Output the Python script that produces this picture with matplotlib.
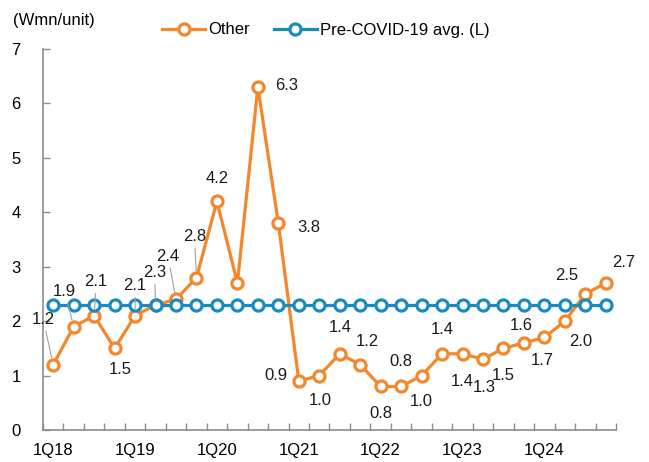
import matplotlib
matplotlib.use("Agg")
import matplotlib.pyplot as plt

plt.rcParams['font.family'] = ['Liberation Sans', 'DejaVu Sans']

quarters = [f"{q}Q{y}" for y in range(18, 25) for q in range(1, 5)]
other = [1.2, 1.9, 2.1, 1.5, 2.1, 2.3, 2.4, 2.8, 4.2, 2.7, 6.3, 3.8,
         0.9, 1.0, 1.4, 1.2, 0.8, 0.8, 1.0, 1.4, 1.4, 1.3, 1.5, 1.6,
         1.7, 2.0, 2.5, 2.7]
pre_covid = [2.3] * len(quarters)

# label offsets in pixels (dx, dy, leader line), None = no label
label_offsets = [(-10, 45, 1), (-9, 35, 1), (2, 34, 1), (6, -21, 0), (0, 30, 1),
                 (-1, 32, 1), (-8, 43, 1), (-2, 41, 1), (0, 23, 0), None,
                 (29, 2, 0), (30, -4, 0), (-23, 6, 0), (1, -25, 0), (1, 26, 0),
                 (7, 23, 0), (0, -27, 0), (0, 25, 0), (0, -26, 0), (0, 24, 0),
                 (0, -28, 0), (1, -28, 0), (0, -27, 0), (-3, 17, 0), (-2, -23, 0),
                 (16, -20, 0), (-19, 18, 0), (18, 21, 0)]

orange = "#F4862B"
blue = "#1A8BBF"
grey = "#8C8C8C"
fs = 12

fig = plt.figure(figsize=(6.49, 4.62), dpi=100)
ax = fig.add_axes([43 / 649, 32 / 462, 573 / 649, 381 / 462])

x = list(range(len(quarters)))
ax.plot(x, other, color=orange, lw=2.3, marker="o", ms=8, mew=2.3,
        mfc="white", mec=orange, label="Other", zorder=3)
ax.plot(x, pre_covid, color=blue, lw=2.3, marker="o", ms=8, mew=2.3,
        mfc="white", mec=blue, label="Pre-COVID-19 avg. (L)", zorder=4)

for i, v in enumerate(other):
    off = label_offsets[i]
    if off is None:
        continue
    dx, dy, lead = off
    props = None
    if lead:
        props = dict(arrowstyle="-", color="#A0A0A0", lw=0.8, shrinkA=1, shrinkB=5)
    ax.annotate(f"{v:.1f}", (i, v), xytext=(dx, dy), textcoords="offset pixels",
                ha="center", va="center", fontsize=fs, color="#1a1a1a",
                arrowprops=props, zorder=5)

ax.set_xlim(-0.5, len(quarters) - 0.5)
ax.set_ylim(0, 7)
ax.set_yticks(range(0, 8))
ax.set_xticks(x[::4])
ax.set_xticklabels(quarters[::4])
ax.set_xticks([i - 0.5 for i in range(len(quarters) + 1)], minor=True)

ax.tick_params(axis="x", which="major", length=0, pad=9, labelsize=fs)
ax.tick_params(axis="x", which="minor", direction="in", length=5, color=grey, width=1)
ax.tick_params(axis="y", direction="in", length=5, color=grey, width=1, pad=16, labelsize=fs)
for s in ["top", "right"]:
    ax.spines[s].set_visible(False)
for s in ["left", "bottom"]:
    ax.spines[s].set_color(grey)
    ax.spines[s].set_linewidth(1.2)

fig.text(13 / 649, 1 - 20 / 462, "(Wmn/unit)", fontsize=fs, ha="left", va="center")
fig.legend(loc="center", bbox_to_anchor=(326 / 649, 1 - 30 / 462), ncol=2,
           frameon=False, fontsize=fs, handlelength=2.6, handletextpad=0.2,
           columnspacing=1.4)

fig.savefig("out.png", dpi=100)
